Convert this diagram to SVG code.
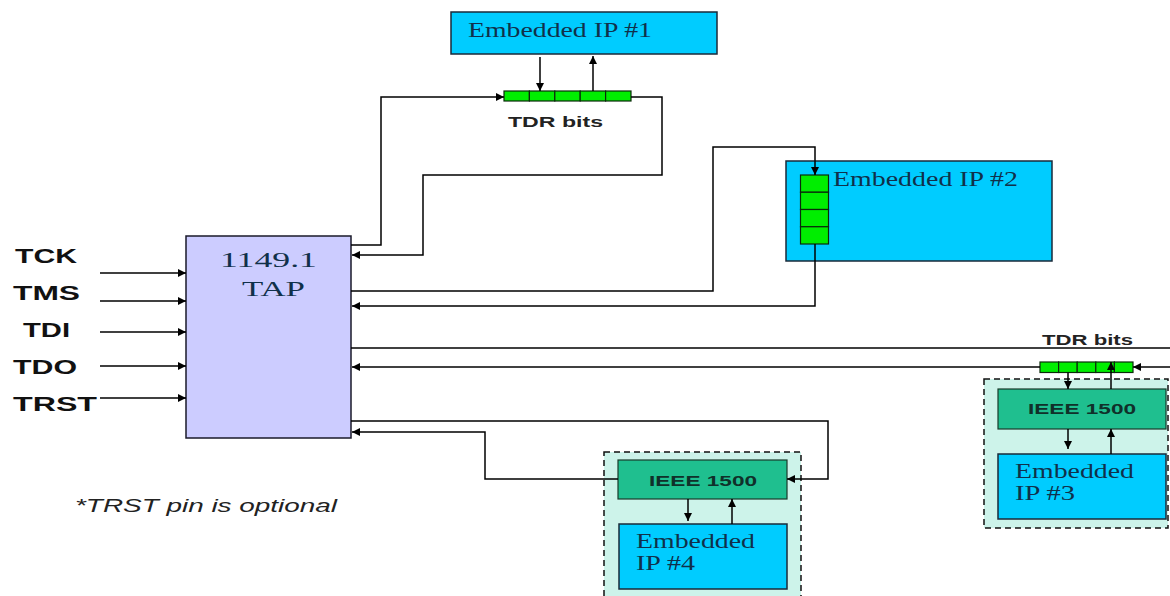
<svg xmlns="http://www.w3.org/2000/svg" width="1170" height="596" viewBox="0 0 1170 596">
<defs>
<marker id="ah" viewBox="0 0 10 10" refX="10" refY="5" markerWidth="11" markerHeight="8" markerUnits="userSpaceOnUse" orient="auto">
<path d="M0,0 L10,5 L0,10 z" fill="#000"/>
</marker>
<style>
.ip{fill:#00ccff;stroke:#1a2a3a;stroke-width:1.5}
.tap{fill:#ccccff;stroke:#1a1a2a;stroke-width:1.5}
.reg{fill:#00ee00;stroke:#0a2a0a;stroke-width:1.2}
.ieee{fill:#1fbf8f;stroke:#1a3a2a;stroke-width:1.2}
.wrap{fill:#cdf3ea;stroke:#111;stroke-width:1.5;stroke-dasharray:6 4}
.ln{fill:none;stroke:#000;stroke-width:1.5}
.arr{fill:none;stroke:#000;stroke-width:1.5;marker-end:url(#ah)}
.tm{font-family:"Liberation Serif",serif;fill:#10304a;font-size:21px}
.sig{font-family:"Liberation Sans",Arial,sans-serif;font-weight:bold;font-size:21px;fill:#111}
.tdr{font-family:"Liberation Sans",Arial,sans-serif;font-weight:bold;font-size:15px;fill:#222}
.ie{font-family:"Liberation Sans",Arial,sans-serif;font-weight:bold;font-size:15px;fill:#10302a}
</style>
</defs>
<rect width="1170" height="596" fill="#fff"/>

<g id="ip1">
<rect class="ip" x="451" y="12" width="266" height="42"/>
<text class="tm" x="468" y="37" textLength="184" lengthAdjust="spacingAndGlyphs">Embedded IP #1</text>
</g>
<g id="tdr1">
<rect class="reg" x="504" y="91" width="25.4" height="10"/>
<rect class="reg" x="529.4" y="91" width="25.4" height="10"/>
<rect class="reg" x="554.8" y="91" width="25.4" height="10"/>
<rect class="reg" x="580.2" y="91" width="25.4" height="10"/>
<rect class="reg" x="605.6" y="91" width="25.4" height="10"/>
<text class="tdr" x="508" y="127" textLength="95" lengthAdjust="spacingAndGlyphs">TDR bits</text>
</g>

<g id="ip2">
<rect class="ip" x="786" y="161" width="266" height="100"/>
<text class="tm" x="833" y="186" textLength="185" lengthAdjust="spacingAndGlyphs">Embedded IP #2</text>
<rect class="reg" x="800.5" y="175" width="28" height="17.25"/>
<rect class="reg" x="800.5" y="192.25" width="28" height="17.25"/>
<rect class="reg" x="800.5" y="209.5" width="28" height="17.25"/>
<rect class="reg" x="800.5" y="226.75" width="28" height="17.25"/>
</g>

<g id="tap">
<rect class="tap" x="186" y="236" width="165" height="202"/>
<text class="tm" x="220" y="267" font-size="24" textLength="97" lengthAdjust="spacingAndGlyphs">1149.1</text>
<text class="tm" x="242" y="296" font-size="24" textLength="63" lengthAdjust="spacingAndGlyphs">TAP</text>
</g>

<g id="signals">
<text class="sig" x="15" y="263" textLength="62" lengthAdjust="spacingAndGlyphs">TCK</text>
<text class="sig" x="13" y="300" textLength="67" lengthAdjust="spacingAndGlyphs">TMS</text>
<text class="sig" x="23" y="337" textLength="47" lengthAdjust="spacingAndGlyphs">TDI</text>
<text class="sig" x="13" y="374" textLength="64" lengthAdjust="spacingAndGlyphs">TDO</text>
<text class="sig" x="13" y="411" textLength="84" lengthAdjust="spacingAndGlyphs">TRST</text>
<text x="75" y="512" font-family="Liberation Sans, Arial, sans-serif" font-style="italic" font-size="18" fill="#222" textLength="262" lengthAdjust="spacingAndGlyphs">*TRST pin is optional</text>
</g>

<g id="tdr3">
<rect class="reg" x="1040" y="362" width="18.6" height="10.5"/>
<rect class="reg" x="1058.6" y="362" width="18.6" height="10.5"/>
<rect class="reg" x="1077.2" y="362" width="18.6" height="10.5"/>
<rect class="reg" x="1095.8" y="362" width="18.6" height="10.5"/>
<rect class="reg" x="1114.4" y="362" width="18.6" height="10.5"/>
<text class="tdr" x="1042" y="345" textLength="91" lengthAdjust="spacingAndGlyphs">TDR bits</text>
</g>

<g id="core3">
<rect class="wrap" x="984" y="379" width="184" height="149"/>
<rect class="ieee" x="998" y="389" width="168" height="40"/>
<text class="ie" x="1028" y="414" textLength="108" lengthAdjust="spacingAndGlyphs">IEEE 1500</text>
<rect class="ip" x="998" y="454" width="168" height="65"/>
<text class="tm" x="1015" y="478" textLength="119" lengthAdjust="spacingAndGlyphs">Embedded</text>
<text class="tm" x="1015" y="500" textLength="60" lengthAdjust="spacingAndGlyphs">IP #3</text>
</g>

<g id="core4">
<rect class="wrap" x="604" y="452" width="197" height="150"/>
<rect class="ieee" x="618" y="460" width="169" height="39"/>
<text class="ie" x="649" y="486" textLength="108" lengthAdjust="spacingAndGlyphs">IEEE 1500</text>
<rect class="ip" x="619" y="524" width="168" height="65"/>
<text class="tm" x="636" y="548" textLength="119" lengthAdjust="spacingAndGlyphs">Embedded</text>
<text class="tm" x="636" y="570" textLength="59" lengthAdjust="spacingAndGlyphs">IP #4</text>
</g>

<g id="connectors">
<line class="arr" x1="100" y1="273" x2="186" y2="273"/>
<line class="arr" x1="100" y1="301" x2="186" y2="301"/>
<line class="arr" x1="100" y1="332" x2="186" y2="332"/>
<line class="arr" x1="100" y1="366" x2="186" y2="366"/>
<line class="arr" x1="100" y1="398" x2="186" y2="398"/>
<polyline class="arr" points="351,245 381,245 381,97 504,97"/>
<polyline class="arr" points="631,97 662,97 662,175 423,175 423,255 352,255"/>
<line class="arr" x1="540" y1="57" x2="540" y2="91"/>
<line class="arr" x1="593" y1="91" x2="593" y2="56"/>
<polyline class="arr" points="351,291 713,291 713,147 815,147 815,175"/>
<polyline class="arr" points="815,244 815,306 352,306"/>
<line class="ln" x1="351" y1="348" x2="1170" y2="348"/>
<line class="arr" x1="1170" y1="367" x2="1133" y2="367"/>
<line class="arr" x1="1040" y1="367" x2="352" y2="367"/>
<line class="arr" x1="1068" y1="372.5" x2="1068" y2="389"/>
<line class="arr" x1="1111" y1="389" x2="1111" y2="362"/>
<line class="arr" x1="1068" y1="429" x2="1068" y2="449"/>
<line class="arr" x1="1111" y1="454" x2="1111" y2="429"/>
<polyline class="arr" points="351,421 828,421 828,479 787,479"/>
<polyline class="arr" points="618,479 485,479 485,432 352,432"/>
<line class="arr" x1="688" y1="499" x2="688" y2="521"/>
<line class="arr" x1="732" y1="524" x2="732" y2="499"/>
</g>
</svg>
